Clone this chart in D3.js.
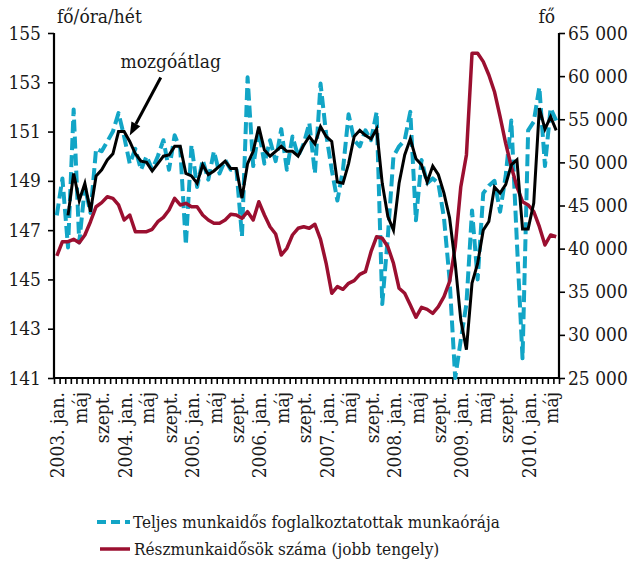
<!DOCTYPE html>
<html>
<head>
<meta charset="utf-8">
<script src="https://cdn.jsdelivr.net/npm/d3@7"></script>
<style>
  body { margin: 0; background: #fff; }
  svg text { font-family: "DejaVu Serif Condensed", "DejaVu Serif", serif; font-stretch: condensed; fill: #1a1a1a; }
</style>
</head>
<body>
<div id="chart"></div>
<script>
// categories: monthly, 2003. jan. - 2010. jún.
const years = [2003, 2004, 2005, 2006, 2007, 2008, 2009, 2010];
const monthCount = 90;
const tickLabelJan = 'jan.';
const tickLabelMay = 'máj';
const tickLabelSep = 'szept.';

// Teljes munkaidős foglalkoztatottak munkaórája (fő/óra/hét, bal tengely)
const fullTimeHours = [
  147.6, 149.1, 146.3, 151.9, 146.5, 148.75, 147.7, 150.3, 150.2, 150.6, 151.0, 151.75,
  150.8, 149.7, 150.3, 149.45, 150.0, 149.45, 150.0, 150.65, 149.45, 150.85, 150.3, 146.4,
  150.45, 148.75, 149.85, 149.05, 150.2, 149.3, 149.85, 149.45, 149.5, 146.75, 153.2, 149.6,
  151.05, 149.7, 150.65, 149.8, 151.1, 149.45, 150.8, 150.0, 150.5, 151.35, 149.3, 152.95,
  150.9, 149.45, 148.2, 149.45, 151.7, 150.65, 150.4, 151.05, 150.65, 151.8, 144.0, 146.75,
  150.0, 150.4, 150.65, 151.8, 147.4, 149.85, 148.9, 149.1, 148.9, 147.5, 145.0, 141.0,
  142.55, 144.0, 147.8, 145.0, 148.5, 148.8, 149.0, 147.75, 149.2, 151.45, 146.5, 141.8,
  151.05, 151.4, 152.8, 149.6, 151.95, 151.45
];

// mozgóátlag (bal tengely)
const movingAvg = [
  null, null, 147.6, 149.3, 148.2, 148.9, 147.75, 149.2, 149.45, 149.85, 150.1, 151.0,
  151.0, 150.6, 150.1, 149.8, 149.75, 149.4, 149.7, 150.0, 150.05, 150.4, 150.4, 149.3,
  149.2, 148.9, 149.65, 149.25, 149.4, 149.6, 149.8, 149.5, 149.5, 148.3, 149.7, 150.2,
  151.2, 150.25, 150.0, 150.2, 150.4, 150.2, 150.2, 150.0, 150.45, 150.8, 150.5, 151.2,
  150.8, 150.6, 148.95, 148.9, 149.7, 150.8, 151.05, 150.85, 150.7, 151.1, 148.9, 147.55,
  147.0, 148.9, 150.05, 150.7, 149.9, 149.65, 148.95, 149.6, 149.25, 148.5, 147.5, 145.65,
  143.35, 142.15, 144.85, 145.65, 147.0, 147.35, 148.75, 148.5, 148.85, 149.65, 149.85, 147.05,
  147.05, 148.1, 151.95, 151.1, 151.6, 151.05
];

// Részmunkaidősök száma (fő, jobb tengely)
const partTimers = [
  39150, 40800, 40800, 41080, 40690, 41580, 43120, 44860, 45330, 46020, 45830, 45060,
  43320, 43900, 41960, 41960, 41960, 42240, 43120, 43630, 44480, 45830, 45060, 45250,
  44860, 44860, 43900, 43320, 42940, 42940, 43320, 43980, 43900, 43520, 44280, 43320,
  45440, 43900, 42540, 41700, 39260, 40040, 41580, 42360, 42540, 42360, 42820, 41080,
  38300, 34820, 35590, 35280, 35980, 36280, 37020, 37330, 39640, 41380, 41200, 40220,
  38300, 35400, 34820, 33460, 32040, 33200, 32960, 32500, 33270, 34430, 36170, 40220,
  47180, 50860, 62650, 62650, 61680, 60130, 58190, 55300, 52210, 49500, 47180, 45440,
  45060, 44280, 42540, 40420, 41580, 41380
];

const leftTicks = [141, 143, 145, 147, 149, 151, 153, 155];
const rightTicks = [25000, 30000, 35000, 40000, 45000, 50000, 55000, 60000, 65000];

const legendLabels = [
  'Teljes munkaidős foglalkoztatottak munkaórája',
  'Részmunkaidősök száma (jobb tengely)'
];

const colBlue = '#12a5c6';
const colRed = '#9b0f30';
const colBlack = '#000';
const fontStack = '"DejaVu Serif Condensed", "DejaVu Serif", serif';
const fs = 19;

const width = 640;
const height = 565;
const plot = { left: 54, right: 559, top: 33, bottom: 378 };

const months = d3.range(monthCount);
const labelFor = i => {
  const m = i % 12;
  if (m === 0) return `${years[Math.floor(i / 12)]}. ${tickLabelJan}`;
  if (m === 4) return tickLabelMay;
  if (m === 8) return tickLabelSep;
  return null;
};

const x = d3.scaleBand().domain(months).range([plot.left, plot.right]).paddingInner(0);
const cx = i => x(i) + x.bandwidth() / 2;
const xEdge = d3.scaleLinear().domain([0, monthCount]).range([plot.left, plot.right]);

const yL = d3.scaleLinear().domain([141, 155]).range([plot.bottom, plot.top]);
const yR = d3.scaleLinear().domain([25000, 65000]).range([plot.bottom, plot.top]);

const huLocale = d3.formatLocale({ decimal: ',', thousands: ' ', grouping: [3], currency: ['', ''] });
const fmtR = huLocale.format(',');

const svg = d3.select('#chart').append('svg')
  .attr('width', width)
  .attr('height', height)
  .attr('font-family', fontStack);

// axes
const gLeft = svg.append('g')
  .attr('transform', `translate(${plot.left},0)`)
  .call(d3.axisLeft(yL).tickValues(leftTicks).tickSize(6).tickPadding(7).tickFormat(d3.format('d')));

const gRight = svg.append('g')
  .attr('transform', `translate(${plot.right},0)`)
  .call(d3.axisRight(yR).tickValues(rightTicks).tickSize(6).tickPadding(3).tickFormat(fmtR));

const gBottom = svg.append('g')
  .attr('transform', `translate(0,${plot.bottom})`)
  .call(d3.axisBottom(xEdge).tickValues(d3.range(monthCount + 1)).tickSize(6).tickFormat(''));

[gLeft, gRight, gBottom].forEach(g => {
  g.attr('font-family', fontStack);
  g.select('.domain').attr('stroke', '#000').attr('stroke-width', 2.2);
  g.selectAll('.tick line').attr('stroke', '#000').attr('stroke-width', 1.6);
  g.selectAll('.tick text')
    .attr('font-size', fs)
    .attr('fill', '#1a1a1a');
});
gBottom.select('.domain').attr('d', `M${plot.left},0H${plot.right}`);
gLeft.select('.domain').attr('d', `M0,${plot.top}V${plot.bottom}`);
gRight.select('.domain').attr('d', `M0,${plot.top}V${plot.bottom}`);

// month labels, rotated
svg.append('g')
  .selectAll('text')
  .data(months.filter(i => labelFor(i) !== null))
  .join('text')
  .attr('transform', i => `translate(${cx(i) + 1},${plot.bottom + 14}) rotate(-90)`)
  .attr('text-anchor', 'end')
  .attr('dy', '0.35em')
  .attr('font-size', fs)
  .text(i => labelFor(i));

// axis titles
svg.append('text').attr('x', plot.left + 3).attr('y', 23).attr('font-size', fs).text('fő/óra/hét');
svg.append('text').attr('x', plot.right - 4).attr('y', 23).attr('font-size', fs).attr('text-anchor', 'end').text('fő');

// lines
const lineL = d3.line().defined(d => d != null).x((d, i) => cx(i)).y(d => yL(d));
const lineR = d3.line().x((d, i) => cx(i)).y(d => yR(d));

svg.append('path')
  .datum(fullTimeHours)
  .attr('fill', 'none')
  .attr('stroke', colBlue)
  .attr('stroke-width', 4)
  .attr('stroke-dasharray', '12,5')
  .attr('stroke-linejoin', 'round')
  .attr('d', lineL);

svg.append('path')
  .datum(partTimers)
  .attr('fill', 'none')
  .attr('stroke', colRed)
  .attr('stroke-width', 3.5)
  .attr('stroke-linejoin', 'round')
  .attr('d', lineR);

svg.append('path')
  .datum(movingAvg)
  .attr('fill', 'none')
  .attr('stroke', colBlack)
  .attr('stroke-width', 3)
  .attr('stroke-linejoin', 'miter')
  .attr('d', lineL);

// annotation: mozgóátlag with arrow
const tipX = cx(13);
const tipY = yL(movingAvg[13]) - 6;
const fromX = tipX + 31;
const fromY = tipY - 58;
const ang = Math.atan2(tipY - fromY, tipX - fromX);
const headLen = 13;
const headW = 5;
const bx = tipX - headLen * Math.cos(ang);
const by = tipY - headLen * Math.sin(ang);
svg.append('line')
  .attr('x1', fromX).attr('y1', fromY)
  .attr('x2', bx).attr('y2', by)
  .attr('stroke', '#000').attr('stroke-width', 3);
svg.append('path')
  .attr('d', `M${tipX},${tipY}L${bx + headW * Math.sin(ang)},${by - headW * Math.cos(ang)}L${bx - headW * Math.sin(ang)},${by + headW * Math.cos(ang)}Z`)
  .attr('fill', '#000');
svg.append('text')
  .attr('x', fromX + 10).attr('y', fromY - 9)
  .attr('text-anchor', 'middle')
  .attr('font-size', fs)
  .text('mozgóátlag');

// legend
const legend = svg.append('g');
legend.append('line')
  .attr('x1', 97).attr('x2', 130).attr('y1', 522).attr('y2', 522)
  .attr('stroke', colBlue).attr('stroke-width', 4).attr('stroke-dasharray', '9,5');
legend.append('text').attr('x', 133).attr('y', 522).attr('dy', '0.35em').attr('font-size', 17).text(legendLabels[0]);
legend.append('line')
  .attr('x1', 100).attr('x2', 130).attr('y1', 549).attr('y2', 549)
  .attr('stroke', colRed).attr('stroke-width', 3.5);
legend.append('text').attr('x', 134).attr('y', 549).attr('dy', '0.35em').attr('font-size', 17).text(legendLabels[1]);
</script>
</body>
</html>
